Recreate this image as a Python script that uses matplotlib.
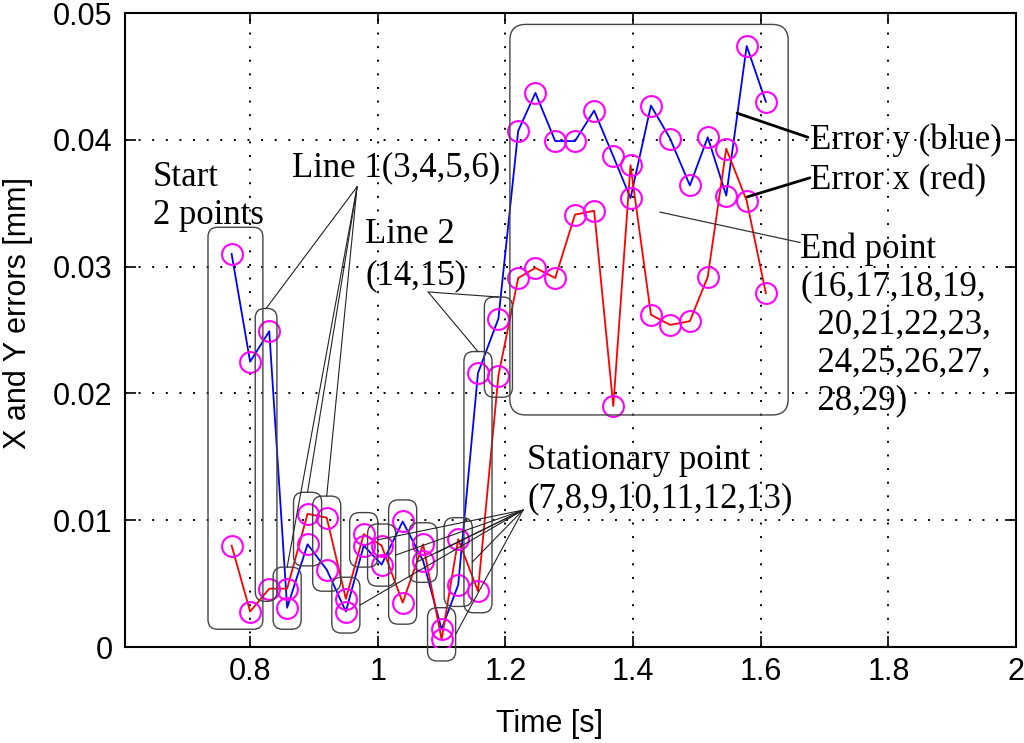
import matplotlib
matplotlib.use('Agg')
import matplotlib.pyplot as plt
from matplotlib.patches import FancyBboxPatch

# time of each sample [s]
t = [0.771, 0.800, 0.830, 0.858, 0.890, 0.920, 0.950, 0.978, 1.006, 1.039,
     1.071, 1.100, 1.126, 1.157, 1.189, 1.220, 1.247, 1.278, 1.309, 1.339,
     1.369, 1.396, 1.428, 1.458, 1.489, 1.517, 1.546, 1.578, 1.608]

# error y (blue) [mm]
err_y = [0.0310, 0.0225, 0.0249, 0.0031, 0.0081, 0.0061, 0.0028, 0.0080, 0.0065, 0.0099,
         0.0068, 0.0014, 0.0049, 0.0216, 0.0259, 0.0407, 0.0437, 0.0399, 0.0399, 0.0423,
         0.0387, 0.0354, 0.0427, 0.0401, 0.0364, 0.0402, 0.0356, 0.0474, 0.0430]

# error x (red) [mm]
err_x = [0.0080, 0.0028, 0.0046, 0.0046, 0.0105, 0.0102, 0.0038, 0.0089, 0.0080, 0.0035,
         0.0081, 0.0006, 0.0085, 0.0044, 0.0214, 0.0291, 0.0299, 0.0291, 0.0341, 0.0344,
         0.0190, 0.0380, 0.0262, 0.0254, 0.0257, 0.0292, 0.0393, 0.0352, 0.0279]

xticks = [0.8, 1.0, 1.2, 1.4, 1.6, 1.8, 2.0]
yticks = [0, 0.01, 0.02, 0.03, 0.04, 0.05]

SANS = 'Liberation Sans'
SERIF = 'Liberation Serif'

fig = plt.figure(figsize=(10.24, 7.43), dpi=100)
ax = fig.add_axes([0.1221, 0.1292, 0.8701, 0.8533])

ax.plot(t, err_y, color='#0000ff', lw=1.3, zorder=3)
ax.plot(t, err_x, color='#ff0000', lw=1.3, zorder=3)
ax.plot(t, err_y, 'o', ms=15, mfc='none', mec='#ff00ff', mew=1.5, zorder=4)
ax.plot(t, err_x, 'o', ms=15, mfc='none', mec='#ff00ff', mew=1.5, zorder=4)

ax.set_xlim(0.604, 2.0)
ax.set_ylim(0, 0.05)
ax.set_xticks(xticks)
ax.set_yticks(yticks)
ax.set_xticklabels(['%g' % v for v in xticks], family=SANS)
ax.set_yticklabels(['%g' % v for v in yticks], family=SANS)
ax.tick_params(direction='in', length=8, width=1.2, top=True, right=True, labelsize=22)
ax.tick_params(axis='x', pad=7)
ax.tick_params(axis='y', pad=9)
for s in ax.spines.values():
    s.set_linewidth(1.5)
ax.grid(True, color='black', linestyle=(0, (1, 6)), linewidth=1.4, zorder=0)

ax.set_xlabel('Time [s]', family=SANS, fontsize=22)
ax.set_ylabel('X and Y errors [mm]', family=SANS, fontsize=22)
ax.xaxis.label.set_va('center')
ax.yaxis.label.set_va('center')
ax.xaxis.set_label_coords(0.476, -0.1215)
ax.yaxis.set_label_coords(-0.120, 0.527)

# rounded boxes around groups of points
def box(idx, left=0.02, right=0.02, bottom=0.0017, top=0.0017, r=0.015):
    xs = [t[i] for i in idx]
    ys = [err_y[i] for i in idx] + [err_x[i] for i in idx]
    x0, x1 = min(xs) - left, max(xs) + right
    y0, y1 = min(ys) - bottom, max(ys) + top
    p = FancyBboxPatch((x0, y0), x1 - x0, y1 - y0,
                       boxstyle='round,pad=0,rounding_size=%g' % r,
                       mutation_aspect=0.0504, fc='none', ec='#444444',
                       lw=1.0, zorder=5, clip_on=False)
    ax.add_patch(p)
    return x0, y0, x1, y1

b_start = box([0, 1], left=0.037, right=0.020, bottom=0.0014, top=0.0021)
b = {3: box([2], left=0.022, right=0.012, bottom=0.001, top=0.0018)}
for i in range(4, 16):
    b[i] = box([i - 1], left=0.022, right=0.022)
b_end = box(list(range(15, 29)), left=0.013, right=0.035, bottom=0.0007, top=0.0017, r=0.025)

def leader(src, dst, lw=0.8, color='#222222'):
    ax.annotate('', xy=dst, xytext=src,
                arrowprops=dict(arrowstyle='-', lw=lw, color=color,
                                shrinkA=0, shrinkB=0), zorder=6)

def top_mid(bb):
    return ((bb[0] + bb[2]) / 2, bb[3])

def right_mid(bb):
    return (bb[2], (bb[1] + bb[3]) / 2)

# annotation texts
tkw = dict(family=SERIF, fontsize=25, ha='left', va='center', zorder=7)
ax.text(0.648, 0.0355, 'Start\n2 points', linespacing=1.2, **tkw)
ax.text(0.866, 0.0378, 'Line 1(3,4,5,6)', **tkw)
ax.text(0.980, 0.0309, 'Line 2\n(14,15)', linespacing=1.3, **tkw)
ax.text(1.234, 0.0132, 'Stationary point\n(7,8,9,10,11,12,13)', linespacing=1.2, **tkw)
ax.text(1.677, 0.0400, 'Error y (blue)', **tkw)
ax.text(1.677, 0.0368, 'Error x (red)', **tkw)
ax.text(1.662, 0.0254, 'End point\n(16,17,18,19,\n  20,21,22,23,\n  24,25,26,27,\n  28,29)',
        linespacing=1.2, **tkw)

# leader lines
for k in (3, 4, 5, 6):
    leader((0.9676, 0.0363), top_mid(b[k]))
for k in (14, 15):
    leader((1.0789, 0.0280), top_mid(b[k]))
for k in range(7, 14):
    leader((1.2277, 0.0108), right_mid(b[k]))
leader((1.674, 0.0402), (1.563, 0.0421), lw=2.0, color='black')
leader((1.677, 0.0370), (1.579, 0.0355), lw=2.0, color='black')
leader((1.6617, 0.0319), (1.442, 0.0343), lw=0.9, color='#333333')

fig.savefig('out.png', dpi=100)
